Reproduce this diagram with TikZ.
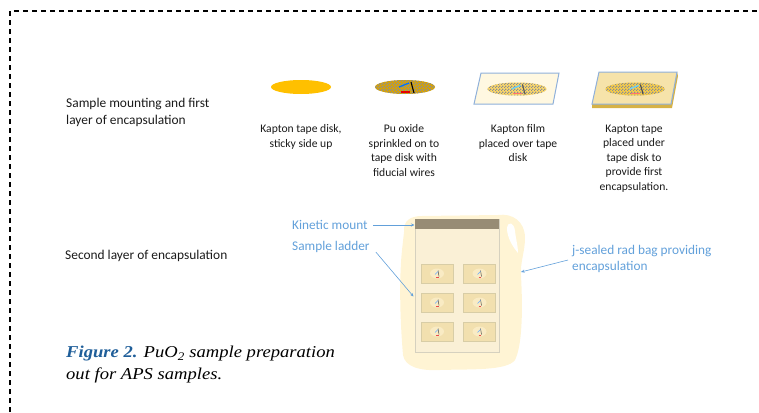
\documentclass[tikz,border=0pt]{standalone}
\usepackage{fontspec}
\setmainfont{Carlito}
\newfontfamily\capfont[FakeStretch=1.12]{Liberation Serif}
\usetikzlibrary{arrows.meta,patterns,calc}

\definecolor{tapegold}{HTML}{FFC000}
\definecolor{checkgray}{HTML}{8A8F96}
\definecolor{filmcream}{HTML}{FFF8E1}
\definecolor{filmedge}{HTML}{8FB0DA}
\definecolor{tapetan}{HTML}{F6E3AA}
\definecolor{tapeedge}{HTML}{D6B246}
\definecolor{bagcream}{HTML}{FFF4D4}
\definecolor{ladderfill}{HTML}{FAF0D6}
\definecolor{ladderedge}{HTML}{D6D1BF}
\definecolor{mountbar}{HTML}{978C75}
\definecolor{slotfill}{HTML}{F2E0AF}
\definecolor{slotedge}{HTML}{D8CDA6}
\definecolor{calloutblue}{HTML}{62A0DA}
\definecolor{figblue}{HTML}{1F5E99}
\definecolor{labelblack}{HTML}{1A1A1A}
\colorlet{wireblue}{blue!55!cyan}
\colorlet{wirered}{red!90!black}
\colorlet{wireblack}{black}

% small checkerboard for the oxide-covered tape disks
\pgfdeclarepatternformonly{finechecks}{\pgfpointorigin}{\pgfpoint{3pt}{3pt}}{\pgfpoint{3pt}{3pt}}{%
  \pgfpathrectangle{\pgfpointorigin}{\pgfpoint{1.5pt}{1.5pt}}%
  \pgfpathrectangle{\pgfpoint{1.5pt}{1.5pt}}{\pgfpoint{1.5pt}{1.5pt}}%
  \pgfusepath{fill}}

\tikzset{
  rowlabel/.style={anchor=west, inner sep=0pt, align=left, text=labelblack,
    font=\fontsize{13.4}{17}\selectfont},
  steplabel/.style={anchor=north, inner sep=0pt, align=center, text=labelblack,
    font=\fontsize{11.6}{14.5}\selectfont},
  calloutlabel/.style={inner sep=0pt, align=left, text=calloutblue,
    font=\fontsize{13.3}{16}\selectfont},
  callout/.style={draw=calloutblue, line width=0.6pt},
  callouttip/.style={callout, -{Stealth[length=3.5pt,width=3pt]}},
  frameline/.style={line width=1.1pt, dash pattern=on 5pt off 4pt},
  captiontext/.style={anchor=west, inner sep=0pt, align=left,
    font=\capfont\itshape\fontsize{16.6}{22}\selectfont},
  oxidedisk/.style={fill=#1, postaction={pattern=finechecks, pattern color=checkgray}},
  fid/.pic={
    \draw[wireblue, line width=1.3pt] (-6,0) -- (4,-4);
    \draw[wireblack, line width=1.1pt] (6,-5) -- (9,6);
    \draw[wirered, line width=1.8pt] (-4,5) -- (5,5);
  },
  slot/.pic={
    \draw[slotedge, fill=slotfill, line width=0.8pt] (-16,-9.5) rectangle (16,9.5);
    \fill[tapetan!70!white] (0,0) ellipse (7 and 5);
    \draw[black!70, line width=0.5pt] (1,-3) -- (2,3);
    \draw[wireblue!60, line width=0.5pt] (-2,1) -- (1,-2);
    \draw[wirered!70, line width=0.6pt] (-1,4) -- (1.5,4);
  }
}

\begin{document}
\begin{tikzpicture}[x=1pt, y=-1pt]
\useasboundingbox (0,0) rectangle (759,412);

% dashed frame (top and left edges)
\coordinate (frameBL) at (10,412);
\coordinate (frameTL) at (10,11);
\coordinate (frameTR) at (759,11);
\draw[frameline] (frameBL) -- (frameTL) -- (frameTR);

% row titles
\node[rowlabel] (row1) at (66,112.5) {Sample mounting and first\\layer of encapsulation};
\node[rowlabel] (row2) at (65,256) {Second layer of encapsulation};

% step 1: bare tape disk
\fill[tapegold] (301,87) ellipse (30 and 7);
\node[steplabel] (cap1) at (301,124.5) {Kapton tape disk,\\sticky side up};

% step 2: oxide sprinkled on the disk with fiducial wires
\path[oxidedisk=tapegold!85!black] (405,87) ellipse (30 and 7);
\pic at (405,87) {fid};
\node[steplabel] (cap2) at (404,124.5) {Pu oxide\\sprinkled on to\\tape disk with\\fiducial wires};

% step 3: Kapton film laid over the disk
\draw[filmedge, fill=filmcream, line width=1pt] (481,73) -- (559,73) -- (553,104) -- (474,104) -- cycle;
\path[oxidedisk=tapegold!55!filmcream] (517,89) ellipse (29.5 and 6.5);
\begin{scope}
  \colorlet{wireblue}{blue!30!cyan!60!white}
  \colorlet{wirered}{red!55!white}
  \colorlet{wireblack}{black!65}
  \pic[scale=0.9] at (517,89) {fid};
\end{scope}
\node[steplabel] (cap3) at (518,124.5) {Kapton film\\placed over tape\\disk};

% step 4: Kapton tape placed underneath
\fill[tapeedge] (592,104) -- (671,104) -- (677,72) -- (678,76) -- (672,108) -- (592,108) -- cycle;
\draw[filmedge, fill=tapetan, line width=1pt] (599,72) -- (677,72) -- (671,104) -- (592,104) -- cycle;
\path[oxidedisk=tapegold!60!tapetan] (635,89) ellipse (29.5 and 6.5);
\begin{scope}
  \colorlet{wireblue}{blue!30!cyan!60!white}
  \colorlet{wirered}{red!55!white}
  \colorlet{wireblack}{black!70}
  \pic[scale=0.9] at (635,89) {fid};
\end{scope}
\node[steplabel] (cap4) at (634,124.5) {Kapton tape\\placed under\\tape disk to\\provide first\\encapsulation.};

% j-sealed bag around the ladder
\fill[bagcream] (404,232)
  .. controls (403,221) and (410,216) .. (422,216)
  -- (498,215)
  .. controls (512,213) and (525,221) .. (525,238)
  .. controls (525,252) and (520,262) .. (521,276)
  .. controls (523,312) and (522,346) .. (515,360)
  .. controls (507,371) and (470,369) .. (440,370)
  .. controls (420,371) and (405,367) .. (403,355)
  .. controls (400,320) and (399,280) .. (402,250)
  -- cycle;
\fill[white] (507,228)
  .. controls (508,221) and (514,222) .. (515,231)
  .. controls (516,240) and (518,246) .. (518,253)
  .. controls (513,247) and (507,238) .. (507,228) -- cycle;
\coordinate (bagside) at (521,272);

% sample ladder with kinetic mount bar
\node[draw=ladderedge, fill=ladderfill, line width=1pt, minimum width=84pt,
      minimum height=133pt, inner sep=0pt] (ladder) at (457,285.5) {};
\node[fill=mountbar, minimum width=84pt, minimum height=10pt, inner sep=0pt,
      anchor=north] (mount) at (ladder.north) {};
\foreach \cx in {437,479.5}
  \foreach \cy in {273.5,302.5,331.5}
    \pic at (\cx,\cy) {slot};

% callouts
\node[calloutlabel, anchor=west] (kinlab) at (292,225) {Kinetic mount};
\node[calloutlabel, anchor=west] (ladlab) at (292,247) {Sample ladder};
\node[calloutlabel, anchor=north west] (baglab) at (572,245) {j-sealed rad bag providing\\encapsulation};
\coordinate (kinstart) at ($(kinlab.east)+(5,0)$);
\coordinate (ladstart) at ($(ladlab.east)+(6,5)$);
\coordinate (bagstart) at ($(baglab.north west)+(-4,15)$);
\draw[callouttip] (kinstart) -- (kinstart -| ladder.west);
\draw[callouttip] (ladstart) -- ($(ladder.west)+(-1,11)$);
\draw[callouttip] (bagstart) -- (bagside);

% figure caption
\node[captiontext] (caption) at (66,365)
  {{\bfseries\color{figblue}Figure 2.} PuO\textsubscript{2} sample preparation\\out for APS samples.};
\end{tikzpicture}
\end{document}
